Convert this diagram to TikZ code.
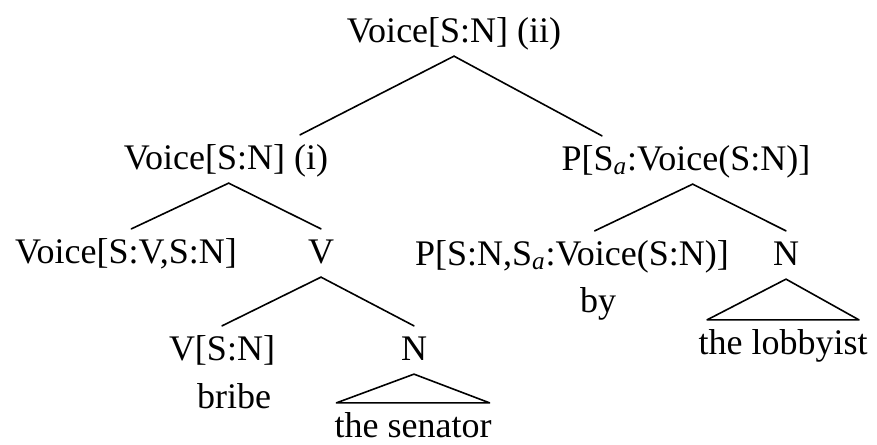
\documentclass[tikz,border=0pt]{standalone}
\usepackage{fontspec}
\setmainfont{Liberation Serif}
\tikzset{every picture/.style={line width=1.2pt}}
\tikzset{
  cat/.style={anchor=base, inner xsep=0pt, inner ysep=3pt, text height=22pt, text depth=7pt, font=\fontsize{27}{32}\selectfont},
  branch/.style={draw, line cap=round}
}

\begin{document}
\begin{tikzpicture}[x=0.75pt,y=0.75pt,yscale=-1,xscale=1]
    \useasboundingbox (0,0) rectangle (877,444);
    % Text Node
    \node [cat] (root) at (454,42) {Voice[S:N] (ii)};
    % Text Node
    \node [cat] (vi) at (226,169) {Voice[S:N] (i)};
    \node [cat] (pa) at (686,170) {P[S\textsubscript{\textit{a}}:Voice(S:N)]};
    % Text Node
    \node [cat] (vsv) at (126,263) {Voice[S:V,S:N]};
    \node [cat] (v) at (321,263) {V};
    \node [cat] (psn) at (572,265) {P[S:N,S\textsubscript{\textit{a}}:Voice(S:N)]};
    \node [cat] (n1) at (786,265) {N};
    \node [cat] (by) at (598,312) {by};
    \node [cat] (lob) at (783,354) {the lobbyist};
    % Text Node
    \node [cat] (vsn) at (222,360) {V[S:N]};
    \node [cat] (bribe) at (234,408) {bribe};
    \node [cat] (n2) at (414,360) {N};
    \node [cat] (sen) at (413,437) {the senator};
    % Connection
    \path [branch] (root.south) -- ([xshift=55.5pt]vi.north);
    \path [branch] (root.south) -- ([xshift=-63pt]pa.north);
    % Connection
    \path [branch] ([xshift=2pt]vi.south) -- ([xshift=4pt]vsv.north);
    \path [branch] ([xshift=2pt]vi.south) -- (v.north);
    % Connection
    \path [branch] ([xshift=5pt]pa.south) -- ([xshift=17pt]psn.north);
    \path [branch] ([xshift=5pt]pa.south) -- (n1.north);
    % Connection
    \path [branch] (v.south) -- (vsn.north);
    \path [branch] (v.south) -- (n2.north);
    % Triangle
    \path [branch, line join=round] (n2.south) -- ([xshift=2pt]sen.north west) -- ([xshift=-2pt]sen.north east) -- cycle;
    \path [branch, line join=round] (n1.south) -- ([xshift=7pt]lob.north west) -- ([xshift=-7pt]lob.north east) -- cycle;

\end{tikzpicture}
\end{document}
